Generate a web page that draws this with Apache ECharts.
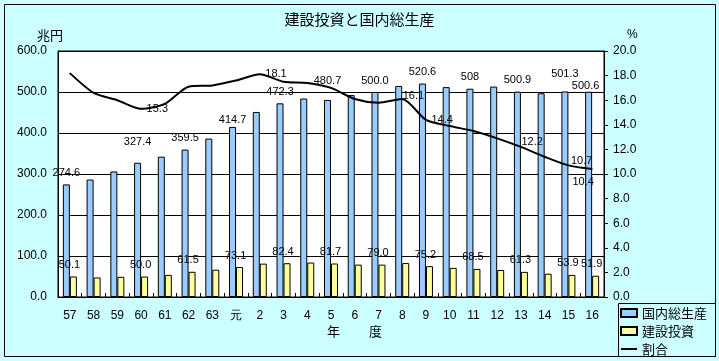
<!DOCTYPE html>
<html><head><meta charset="utf-8">
<script src="https://cdn.jsdelivr.net/npm/echarts@6/dist/echarts.min.js"></script>
<style>html,body{margin:0;padding:0;background:#fff}#c{width:719px;height:361px}</style>
</head><body><div id="c"></div>
<script>
const categories = ['57','58','59','60','61','62','63','元','2','3','4','5','6','7','8','9','10','11','12','13','14','15','16'];
const gdp = [274.6,286.5,306.2,327.4,342.3,359.5,386.4,414.7,451.3,472.3,484.1,480.7,492.5,500.0,514.6,520.6,511.9,508.0,513.2,500.9,497.0,501.3,500.6];
const construction = [50.1,47.6,49.2,50.0,53.9,61.5,66.6,73.1,81.4,82.4,84.0,81.7,79.0,79.0,82.8,75.2,71.0,68.5,66.0,61.3,56.8,53.9,51.9];
const ratio = [18.2,16.6,16.0,15.3,15.7,17.1,17.2,17.6,18.1,17.5,17.4,17.0,16.1,15.8,16.1,14.4,13.9,13.5,12.9,12.2,11.4,10.7,10.4];
const gdpLabels = ['274.6','','','327.4','','359.5','','414.7','','472.3','','480.7','','500.0','','520.6','','508','','500.9','','501.3','500.6'];
const constructionLabels = ['50.1','','','50.0','','61.5','','73.1','','82.4','','81.7','','79.0','','75.2','','68.5','','61.3','','53.9','51.9'];
const ratioLabels = ['','','','15.3','','','','','18.1','','','','','','16.1','14.4','','','','12.2','','10.7','10.4'];
const leftAxis = {min: 0, max: 600, interval: 100};
const rightAxis = {min: 0, max: 20, interval: 2};

const NUM_FONT = '"Liberation Sans", Arial, sans-serif';
const JP_FONT = '"Noto Sans CJK JP", sans-serif';

// label placement tweaks (style only)
const gdpLabelOffset = {3: [0, -9], 7: [0, 4], 11: [0, -7], 21: [0, -6], 22: [-3, 6]};
const ratioLabelStyle = {14: {offset: [-5, -3]}, 19: {offset: [-5, -5]}, 21: {offset: [-3, -4]}, 22: {position: 'bottom', offset: [-9, 2]}};

const dataLabelBase = {fontFamily: NUM_FONT, fontSize: 11, color: '#000'};

const gdpData = gdp.map((v, i) => ({
  value: v,
  label: gdpLabels[i] ? Object.assign({show: true, position: 'top', distance: 6, formatter: gdpLabels[i], offset: gdpLabelOffset[i] || [0, 0]}, dataLabelBase) : {show: false}
}));
const conData = construction.map((v, i) => ({
  value: v,
  label: constructionLabels[i] ? Object.assign({show: true, position: 'top', distance: 6, formatter: constructionLabels[i], offset: [-4, 0]}, dataLabelBase) : {show: false}
}));
const ratioData = ratio.map((v, i) => {
  if (!ratioLabels[i]) return {value: v, label: {show: false}};
  const st = ratioLabelStyle[i] || {};
  return {value: v, label: Object.assign({show: true, position: st.position || 'right', distance: 5, formatter: ratioLabels[i], offset: st.offset || [0, 0]}, dataLabelBase)};
});

const chart = echarts.init(document.getElementById('c'), null, {renderer: 'canvas'});
chart.setOption({
  animation: false,
  backgroundColor: '#CCFFFF',
  grid: {left: 58, right: 115, top: 51, bottom: 64, show: true, backgroundColor: '#fff', borderColor: '#000', borderWidth: 1},
  legend: {
    orient: 'vertical', left: 620, top: 306, padding: 0,
    itemWidth: 16, itemHeight: 8, itemGap: 4, selectedMode: false,
    textStyle: {fontFamily: JP_FONT, fontSize: 13, color: '#000', lineHeight: 14},
    data: [
      {name: '国内総生産', icon: 'rect'},
      {name: '建設投資', icon: 'rect'},
      {name: '割合', icon: 'path://M0,0H16V2H0Z'}
    ]
  },
  xAxis: {
    type: 'category', data: categories, boundaryGap: true,
    axisLine: {lineStyle: {color: '#000', width: 1}},
    axisTick: {show: true, inside: true, length: 4, lineStyle: {color: '#000'}},
    axisLabel: {color: '#000', fontFamily: NUM_FONT, fontSize: 12, margin: 13, interval: 0}
  },
  yAxis: [
    {
      type: 'value', position: 'left', min: leftAxis.min, max: leftAxis.max, interval: leftAxis.interval,
      axisLine: {show: true, lineStyle: {color: '#000'}},
      axisTick: {show: false},
      splitLine: {show: true, lineStyle: {color: '#000', width: 1}},
      axisLabel: {color: '#000', fontFamily: NUM_FONT, fontSize: 12, margin: 11, formatter: v => v.toFixed(1)}
    },
    {
      type: 'value', position: 'right', min: rightAxis.min, max: rightAxis.max, interval: rightAxis.interval,
      axisLine: {show: true, lineStyle: {color: '#000'}},
      axisTick: {show: true, inside: false, length: 4, lineStyle: {color: '#000'}},
      splitLine: {show: false},
      axisLabel: {color: '#000', fontFamily: NUM_FONT, fontSize: 12, margin: 9, formatter: v => v.toFixed(1)}
    }
  ],
  series: [
    {name: '国内総生産', type: 'bar', data: gdpData, barWidth: 7, barGap: '0%',
     itemStyle: {color: '#99CCFF', borderColor: '#000', borderWidth: 1}},
    {name: '建設投資', type: 'bar', data: conData, barWidth: 7, barGap: '0%',
     itemStyle: {color: '#FFFF99', borderColor: '#000', borderWidth: 1}},
    {name: '割合', type: 'line', yAxisIndex: 1, data: ratioData, smooth: 0.25,
     symbol: 'circle', symbolSize: 1, showSymbol: true, z: 5,
     itemStyle: {color: '#000'}, lineStyle: {color: '#000', width: 2}}
  ],
  graphic: [
    {type: 'rect', z: 100, silent: true, shape: {x: 4.5, y: 4.5, width: 711, height: 352}, style: {fill: 'none', stroke: '#000', lineWidth: 1}},
    {type: 'rect', z: 100, silent: true, shape: {x: 618.5, y: 303.5, width: 97, height: 53}, style: {fill: 'none', stroke: '#000', lineWidth: 1}},
    {type: 'text', z: 100, left: 'center', top: 12, style: {text: '建設投資と国内総生産', font: '15px ' + JP_FONT, fill: '#000'}},
    {type: 'text', z: 100, left: 37, top: 29, style: {text: '兆円', font: '13px ' + JP_FONT, fill: '#000'}},
    {type: 'text', z: 100, left: 627, top: 29, style: {text: '%', font: '12px ' + NUM_FONT, fill: '#000'}},
    {type: 'text', z: 100, left: 327, top: 325, style: {text: '年', font: '13px ' + JP_FONT, fill: '#000'}},
    {type: 'text', z: 100, left: 369, top: 325, style: {text: '度', font: '13px ' + JP_FONT, fill: '#000'}}
  ]
});
</script>
</body></html>
